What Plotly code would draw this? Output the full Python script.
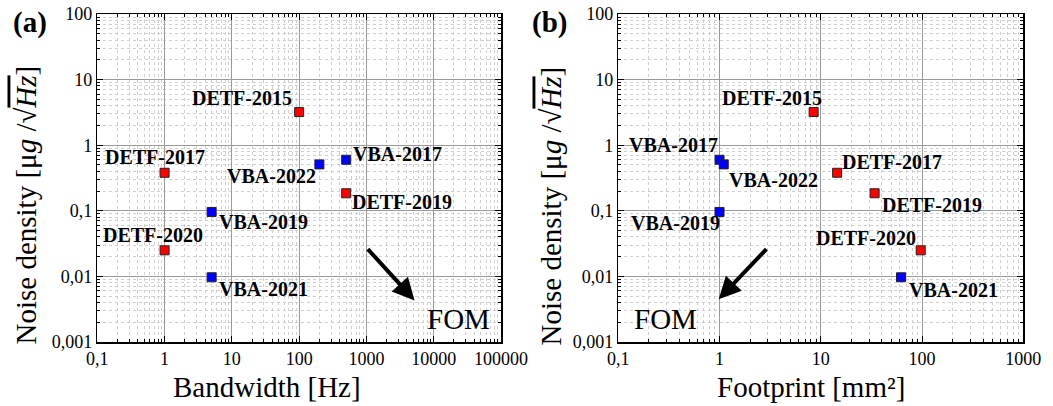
import numpy as np
import plotly.graph_objects as go

# ---------------- data ----------------
devices = ["DETF-2015", "DETF-2017", "DETF-2019", "DETF-2020",
           "VBA-2017", "VBA-2019", "VBA-2021", "VBA-2022"]
kind = ["DETF", "DETF", "DETF", "DETF", "VBA", "VBA", "VBA", "VBA"]
noise_density = [3.2, 0.38, 0.185, 0.025, 0.6, 0.096, 0.0097, 0.51]   # ug/sqrt(Hz)
bandwidth = [100, 1, 500, 1, 500, 5, 5, 200]                          # Hz
footprint = [8.5, 14.5, 34, 97, 1.0, 1.0, 62, 1.1]                    # mm^2

x_ticks_a = [0.1, 1, 10, 100, 1000, 10000, 100000]
x_ticktext_a = ["0,1", "1", "10", "100", "1000", "10000", "100000"]
x_ticks_b = [0.1, 1, 10, 100, 1000]
x_ticktext_b = ["0,1", "1", "10", "100", "1000"]
y_ticks = [0.001, 0.01, 0.1, 1, 10, 100]
y_ticktext = ["0,001", "0,01", "0,1", "1", "10", "100"]

# FOM arrows (tail -> head) in data units
arrow_a_tail = (1000, 0.0275)
arrow_a_head = (5200, 0.0043)
fom_a_pos = (23000, 0.00225)
arrow_b_tail = (3.0, 0.0275)
arrow_b_head = (0.98, 0.0045)
fom_b_pos = (0.29, 0.00225)

# label offsets (pixels) : (xanchor, xshift, yshift)
offs_a = {
    "DETF-2015": ("right", -5, 14),
    "DETF-2017": ("center", -10, 16),
    "DETF-2019": ("left", 4, -9),
    "DETF-2020": ("center", -12, 15),
    "VBA-2017": ("left", 5, 6),
    "VBA-2019": ("left", 5, -10),
    "VBA-2021": ("left", 5, -12),
    "VBA-2022": ("right", -1, -12),
}
offs_b = {
    "DETF-2015": ("right", 10, 14),
    "DETF-2017": ("left", 3, 11),
    "DETF-2019": ("left", 5, -12),
    "DETF-2020": ("right", -3, 12),
    "VBA-2017": ("right", 0, 15),
    "VBA-2019": ("right", 2, -11),
    "VBA-2021": ("left", 6, -13),
    "VBA-2022": ("left", 3, -16),
}

colors = {"DETF": "#ff0000", "VBA": "#0000ff"}
FONT = "Liberation Serif, Times New Roman, serif"

W, H = 1053, 406
def px_x(p):
    return p / W
def px_y(p):
    return 1 - p / H

fig = go.Figure()

for xs, xa, ya in [(bandwidth, "x", "y"), (footprint, "x2", "y2")]:
    for k in ["DETF", "VBA"]:
        idx = [i for i, kk in enumerate(kind) if kk == k]
        fig.add_trace(go.Scatter(
            x=[xs[i] for i in idx], y=[noise_density[i] for i in idx],
            mode="markers", xaxis=xa, yaxis=ya, showlegend=False,
            marker=dict(symbol="square", size=9, color=colors[k],
                        line=dict(color="#222222", width=1)),
        ))

annotations = []
for xs, xa, ya, offs in [(bandwidth, "x", "y", offs_a), (footprint, "x2", "y2", offs_b)]:
    for i, name in enumerate(devices):
        anc, xs_, ys_ = offs[name]
        annotations.append(dict(
            x=np.log10(xs[i]), y=np.log10(noise_density[i]), xref=xa, yref=ya,
            text="<b>%s</b>" % name, showarrow=False, xanchor=anc, yanchor="middle",
            xshift=xs_, yshift=ys_, font=dict(family=FONT, size=20, color="black"),
        ))

# arrows
for tail, head, xa, ya in [(arrow_a_tail, arrow_a_head, "x", "y"),
                           (arrow_b_tail, arrow_b_head, "x2", "y2")]:
    annotations.append(dict(
        x=np.log10(head[0]), y=np.log10(head[1]), xref=xa, yref=ya,
        ax=np.log10(tail[0]), ay=np.log10(tail[1]), axref=xa, ayref=ya,
        text="", showarrow=True, arrowhead=2, arrowsize=1.1, arrowwidth=4,
        arrowcolor="black",
    ))
for pos, xa, ya in [(fom_a_pos, "x", "y"), (fom_b_pos, "x2", "y2")]:
    annotations.append(dict(
        x=np.log10(pos[0]), y=np.log10(pos[1]), xref=xa, yref=ya,
        text="FOM", showarrow=False, xanchor="center", yanchor="middle",
        font=dict(family=FONT, size=29, color="black"),
    ))

# panel labels
for txt, xp in [("(a)", 30), ("(b)", 550)]:
    annotations.append(dict(
        x=px_x(xp), y=px_y(22), xref="paper", yref="paper", text="<b>%s</b>" % txt,
        showarrow=False, xanchor="center", yanchor="middle",
        font=dict(family=FONT, size=29, color="black"),
    ))

ytitle = ("Noise density [μ<i>g</i> /√<span style='text-decoration:overline'>"
          "<i>Hz</i></span>]")
for xp in [25, 550]:
    annotations.append(dict(
        x=px_x(xp), y=px_y(347), xref="paper", yref="paper", text=ytitle,
        textangle=-90, showarrow=False, xanchor="center", yanchor="bottom",
        font=dict(family=FONT, size=29, color="black"),
    ))
for txt, xp in [("Bandwidth [Hz]", 267), ("Footprint [mm²]", 811)]:
    annotations.append(dict(
        x=px_x(xp), y=px_y(387), xref="paper", yref="paper", text=txt,
        showarrow=False, xanchor="center", yanchor="middle",
        font=dict(family=FONT, size=29, color="black"),
    ))

def axis(domain, rng, tv, tt, anchor):
    return dict(
        type="log", domain=domain, range=rng, anchor=anchor, automargin=False,
        tickmode="array", tickvals=tv, ticktext=tt,
        ticks="inside", ticklen=6, tickwidth=1, tickcolor="black",
        showline=True, linecolor="black", linewidth=1.5, mirror="allticks",
        showgrid=True, gridcolor="#9a9a9a", gridwidth=1, zeroline=False,
        tickfont=dict(family=FONT, size=18, color="black"),
        minor=dict(dtick="D1", ticks="inside", ticklen=3, tickcolor="black",
                   showgrid=True, gridcolor="#cfcfcf", griddash="dot", gridwidth=1),
    )

fig.update_layout(
    template="none",
    width=W, height=H,
    margin=dict(l=0, r=0, t=0, b=0, pad=0, autoexpand=False),
    paper_bgcolor="white", plot_bgcolor="white",
    xaxis=axis([px_x(97.3), px_x(501)], [-1, 5], x_ticks_a, x_ticktext_a, "y"),
    yaxis=axis([px_y(342), px_y(14)], [-3, 2], y_ticks, y_ticktext, "x"),
    xaxis2=axis([px_x(618.3), px_x(1023.3)], [-1, 3], x_ticks_b, x_ticktext_b, "y2"),
    yaxis2=axis([px_y(342), px_y(14)], [-3, 2], y_ticks, y_ticktext, "x2"),
    annotations=annotations,
    font=dict(family=FONT, color="black"),
    showlegend=False,
    hovermode=False,
)

fig.write_html("out.html",
               config={"displayModeBar": False, "staticPlot": True},
               post_script="document.body.style.margin='0px';"
                           "document.body.style.overflow='hidden';")
